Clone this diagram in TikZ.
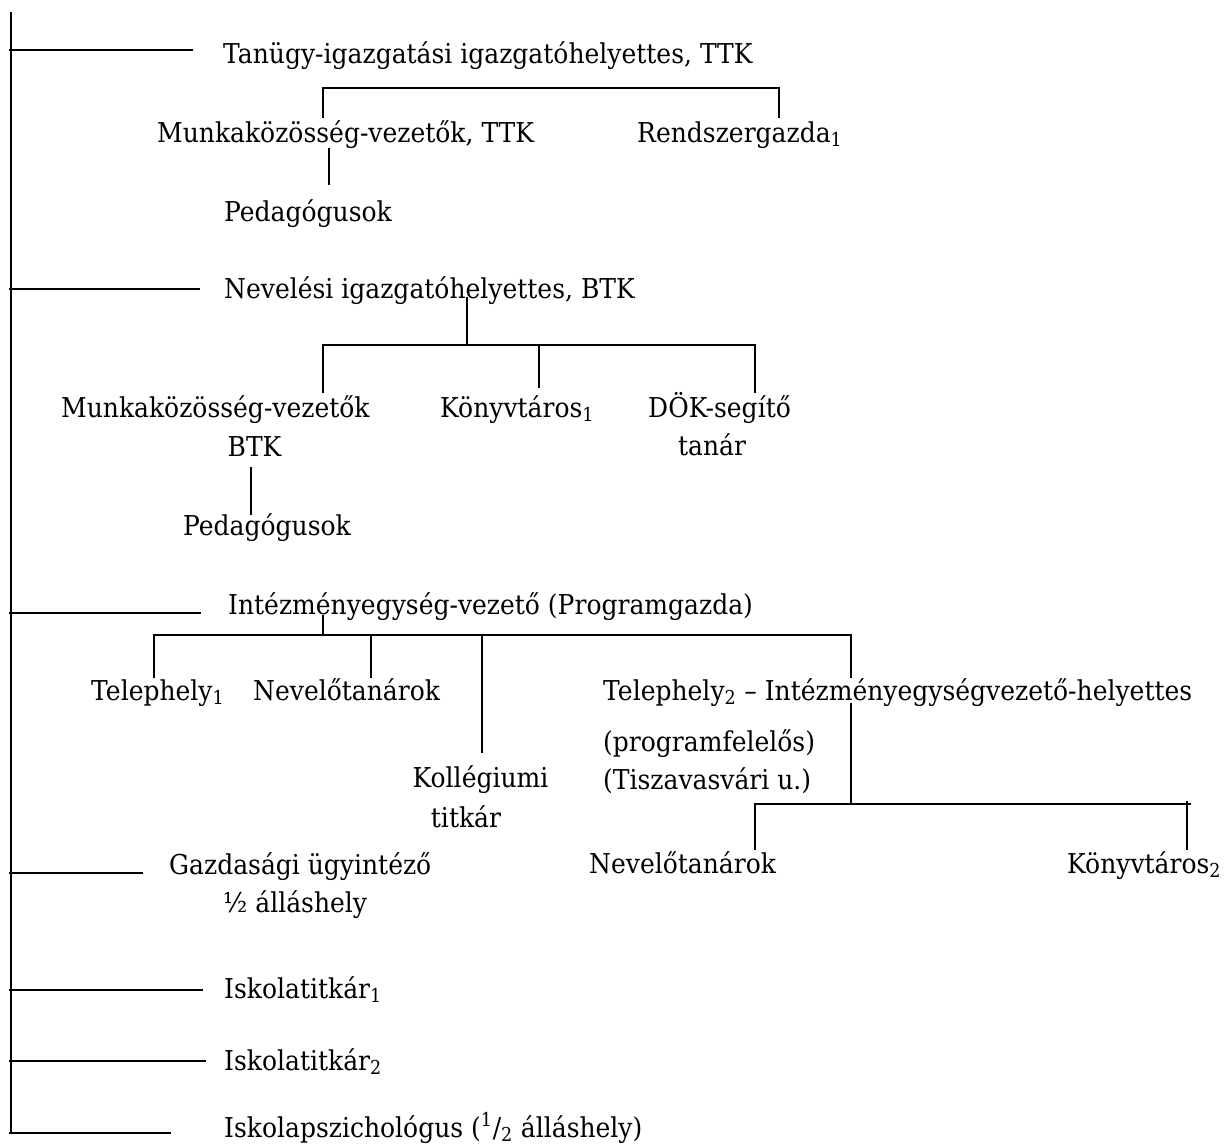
\documentclass[tikz,border=0pt]{standalone}
\usepackage{fontspec}
\setmainfont{DejaVu Serif}[FakeStretch=0.915]
\begin{document}
\begin{tikzpicture}[x=0.75pt,y=-0.75pt,line width=1.8pt,
  lbl/.style={anchor=base west,inner sep=0pt,font=\fontsize{20.5}{29}\selectfont},
  clbl/.style={lbl,anchor=base}]
\useasboundingbox (0,0) rectangle (1227,1146);
% texts
\node[lbl] (tanugy) at (222,63) {Tanügy-igazgatási igazgatóhelyettes, TTK};
\node[lbl] (mkttk) at (156,142) {Munkaközösség-vezetők, TTK};
\node[lbl] (rendsz) at (636,142) {Rendszergazda\textsubscript{1}};
\node[lbl] (ped1) at (223,221) {Pedagógusok};
\node[lbl] (nevig) at (223,298) {Nevelési igazgatóhelyettes, BTK};
\node[lbl] (mkbtk) at (60,417) {Munkaközösség-vezetők};
\node[clbl] (btk) at (254.5,456) {BTK};
\node[lbl] (ped2) at (182,535) {Pedagógusok};
\node[lbl] (konyv1) at (439,417) {Könyvtáros\textsubscript{1}};
\node[lbl] (dok) at (647,417) {DÖK-segítő};
\node[clbl] (tanar) at (712,455) {tanár};
\node[lbl] (intez) at (227,614) {Intézményegység-vezető (Programgazda)};
\node[lbl] (tel1) at (90,700) {Telephely\textsubscript{1}};
\node[lbl] (nev1) at (252,700) {Nevelőtanárok};
\node[clbl] (koll) at (480.5,787) {Kollégiumi};
\node[clbl] (titkar) at (466,827) {titkár};
\node[lbl] (tel2) at (602,700) {Telephely\textsubscript{2} – Intézményegységvezető-helyettes};
\node[lbl] (progf) at (602,751) {(programfelelős)};
\node[lbl] (tisza) at (602,789) {(Tiszavasvári u.)};
\node[lbl] (nev2) at (588,873) {Nevelőtanárok};
\node[lbl] (konyv2) at (1066,873) {Könyvtáros\textsubscript{2}};
\node[lbl] (gazd) at (168,874) {Gazdasági ügyintéző};
\node[lbl] (fel) at (222,912) {½ álláshely};
\node[lbl] (isk1) at (223,998) {Iskolatitkár\textsubscript{1}};
\node[lbl] (isk2) at (223,1070) {Iskolatitkár\textsubscript{2}};
\node[lbl] (pszi) at (223,1137) {Iskolapszichológus (\textsuperscript{1}/\textsubscript{2} álláshely)};
% spine and branches
\coordinate (top) at (11,12);
\coordinate (bot) at (11,1133);
\draw (top) -- (bot);
\coordinate (e1) at (193,50);
\coordinate (e2) at (200,289);
\coordinate (e3) at (201,613);
\coordinate (e4) at (143,873);
\coordinate (e5) at (203,990);
\coordinate (e6) at (206,1061);
\coordinate (e7) at (171,1133);
\foreach \e in {e1,e2,e3,e4,e5,e6,e7} \draw ([xshift=-1.5pt]top |- \e) -- (\e);
% TTK bracket
\coordinate (a1) at (323,88);
\coordinate (a2) at (779,88);
\coordinate (a1d) at (323,118);
\coordinate (a2d) at (779,118);
\draw (a1d) -- (a1) -- (a2) -- (a2d);
\coordinate (p1t) at (329,148);
\coordinate (p1b) at (329,185);
\draw (p1t) -- (p1b);
% BTK bracket
\coordinate (n0) at (467,297);
\coordinate (n1) at (467,345);
\coordinate (b1) at (323,345);
\coordinate (b2) at (755,345);
\coordinate (b1d) at (323,393);
\coordinate (b2d) at (755,393);
\coordinate (k1) at (539,345);
\coordinate (k1d) at (539,388);
\draw (n0) -- (n1);
\draw (b1d) -- (b1) -- (b2) -- (b2d);
\draw (k1) -- (k1d);
\coordinate (p2t) at (251,467);
\coordinate (p2b) at (251,515);
\draw (p2t) -- (p2b);
% Intezmeny bracket
\coordinate (i0) at (323,615);
\coordinate (i1) at (323,635);
\coordinate (c1) at (154,635);
\coordinate (c2) at (851,635);
\coordinate (c1d) at (154,678);
\coordinate (c2d) at (851,678);
\coordinate (nv) at (371,635);
\coordinate (nvd) at (371,678);
\coordinate (kl) at (482,635);
\coordinate (kld) at (482,753);
\draw (i0) -- (i1);
\draw (c1d) -- (c1) -- (c2) -- (c2d);
\draw (nv) -- (nvd);
\draw (kl) -- (kld);
\coordinate (t2a) at (851,703);
\coordinate (t2b) at (851,804);
\draw (t2a) -- (t2b);
\coordinate (l1) at (755,804);
\coordinate (l2) at (1191,804);
\coordinate (l1d) at (755,850);
\coordinate (r1) at (1187,801);
\coordinate (r1d) at (1187,850);
\draw (l1d) -- (l1) -- (l2);
\draw (r1) -- (r1d);
\end{tikzpicture}
\end{document}
